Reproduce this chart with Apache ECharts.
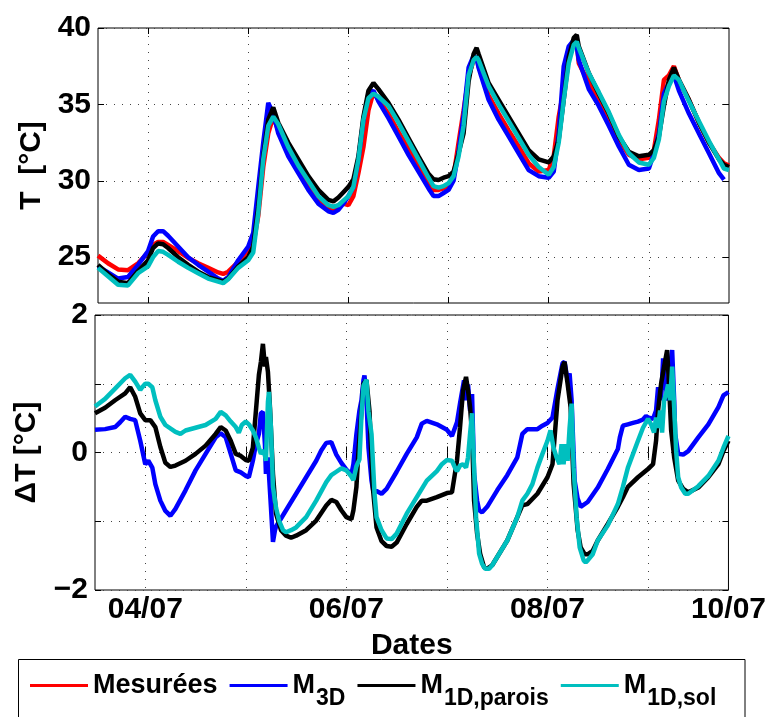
<!DOCTYPE html>
<html><head><meta charset="utf-8">
<script src="https://cdn.jsdelivr.net/npm/echarts@6/dist/echarts.min.js"></script>
<style>html,body{margin:0;padding:0;background:#fff}#c{width:769px;height:717px}</style>
</head><body><div id="c"></div>
<script>
// ---- top panel: temperatures (day of July) ----
const tDays = [3.5,3.6,3.7,3.8,3.9, 4.0,4.05,4.1,4.15,4.2, 4.3,4.4,4.5,4.6,4.7, 4.75,4.8,4.9,5.0,5.05,
  5.1,5.15,5.2,5.25,5.3, 5.4,5.5,5.6,5.7,5.8, 5.85,5.9,5.95,6.0,6.05, 6.1,6.15,6.2,6.25,6.3,
  6.4,6.5,6.6,6.7,6.8, 6.85,6.9,6.95,7.0,7.05, 7.1,7.15,7.2,7.25,7.28, 7.3,7.4,7.5,7.6,7.7,
  7.8,7.9,8.0,8.05,8.1, 8.15,8.2,8.25,8.28,8.3, 8.4,8.5,8.6,8.7,8.8, 8.9,9.0,9.05,9.1,9.15,
  9.2,9.25,9.3,9.4,9.5, 9.6,9.7,9.75,9.8];
const tMes = [25.1,24.6,24.2,24.15,24.6, 25.3,25.8,26.0,26.0,25.8, 25.4,24.95,24.6,24.3,24.0, 23.9,24.05,24.7,25.4,25.8,
  27.7,30.9,33.1,34.2,33.3, 31.8,30.7,29.6,28.75,28.2, 28.1,28.4,28.5,28.4,29.0, 30.5,32.2,34.6,35.8,35.3,
  34.4,33.2,32.1,31.0,29.9, 29.4,29.4,29.5,29.7,30.3, 32.5,34.6,36.8,37.9,38.1, 37.5,35.6,34.4,33.3,32.25,
  31.15,30.6,30.7,31.6,34.2, 36.0,38.1,39.0,39.0,37.7, 36.4,35.3,34.0,32.7,31.7, 31.4,31.5,32.0,34.0,36.6,
  36.9,37.5,36.6,35.3,33.8, 32.5,31.5,31.15,31.0];
const t3D = [24.4,24.0,23.6,23.7,24.5, 25.4,26.35,26.7,26.7,26.4, 25.7,25.0,24.5,24.05,23.6, 23.45,23.7,24.8,25.7,26.6,
  29.6,32.5,35.1,34.4,33.1, 31.6,30.5,29.4,28.5,28.0, 27.9,28.1,28.5,29.0,29.6, 31.4,34.0,35.7,35.9,35.2,
  34.1,32.9,31.7,30.6,29.5, 29.0,29.0,29.2,29.4,30.0, 31.9,34.3,37.4,38.2,38.0, 37.4,35.3,34.0,32.9,31.8,
  30.7,30.3,30.2,30.6,33.1, 37.5,38.8,39.2,38.8,37.9, 36.0,34.9,33.6,32.25,31.05, 30.7,30.8,31.8,33.1,35.7,
  36.4,36.9,35.9,34.4,33.1, 31.8,30.5,30.07,null];
const tParois = [24.5,23.9,23.4,23.3,24.1, 24.8,25.6,25.9,25.85,25.6, 25.0,24.5,24.05,23.7,23.5, 23.4,23.6,24.4,25.0,25.7,
  28.3,31.6,34.0,34.8,33.8, 32.5,31.4,30.3,29.4,28.75, 28.65,28.9,29.25,29.6,30.1, 31.6,34.2,35.9,36.4,36.0,
  35.1,34.0,32.8,31.6,30.45, 30.1,30.05,30.2,30.3,30.6, 31.8,33.1,36.5,38.3,38.7, 38.3,36.4,35.3,34.2,33.1,
  32.0,31.4,31.2,31.6,32.7, 35.3,38.1,39.35,39.55,38.8, 37.05,35.7,34.4,32.9,31.9, 31.6,31.7,32.0,32.9,34.9,
  36.6,37.4,36.6,35.3,33.8, 32.5,31.4,31.05,30.9];
const tSol = [24.3,23.75,23.2,23.15,23.95, 24.4,25.0,25.4,25.35,25.15, 24.7,24.3,23.95,23.6,23.4, 23.3,23.55,24.3,24.8,25.3,
  27.9,31.4,33.6,34.2,33.7, 32.2,31.0,30.0,29.0,28.4, 28.3,28.4,28.7,29.0,29.6, 31.4,34.0,35.4,35.7,35.5,
  34.9,33.8,32.6,31.4,30.2, 29.65,29.55,29.65,29.85,30.3, 31.6,33.6,36.9,37.9,38.1, 37.9,36.2,35.0,33.9,32.8,
  31.7,30.9,30.4,30.9,32.5, 35.3,37.7,38.9,39.1,38.7, 37.05,35.8,34.5,33.0,31.8, 31.2,31.05,31.5,32.7,35.2,
  36.2,36.9,36.6,35.2,33.9, 32.6,31.4,30.8,30.7];

// ---- bottom panel: deviations [day, dT] ----
const d3D = [[3.5,0.33],[3.6,0.34],[3.7,0.37],[3.75,0.44],[3.8,0.52],[3.85,0.49],[3.9,0.47],[3.95,0.17],[4.0,-0.17],[4.03,-0.12],
  [4.07,-0.22],[4.1,-0.46],[4.15,-0.7],[4.2,-0.85],[4.25,-0.92],[4.3,-0.82],[4.4,-0.55],[4.5,-0.26],[4.6,-0.02],[4.7,0.22],
  [4.75,0.28],[4.8,0.22],[4.85,-0.02],[4.9,-0.26],[4.95,-0.29],[5.0,-0.34],[5.03,-0.36],[5.07,-0.12],[5.1,0.12],[5.13,0.27],
  [5.15,0.57],[5.17,0.59],[5.19,0.12],[5.2,-0.31],[5.22,-0.07],[5.25,-0.8],[5.27,-1.3],[5.29,-1.13],[5.3,-1.08],[5.35,-0.96],
  [5.4,-0.84],[5.5,-0.6],[5.6,-0.36],[5.7,-0.12],[5.75,0.03],[5.8,0.14],[5.85,0.15],[5.9,-0.03],[5.95,-0.15],[6.0,-0.25],
  [6.05,-0.32],[6.07,-0.17],[6.1,0.27],[6.13,0.61],[6.15,0.76],[6.17,1.05],[6.18,1.12],[6.2,0.76],[6.22,0.07],[6.25,-0.41],
  [6.27,-0.58],[6.3,-0.56],[6.35,-0.6],[6.4,-0.53],[6.5,-0.28],[6.6,-0.02],[6.7,0.22],[6.75,0.42],[6.8,0.46],[6.9,0.41],
  [7.0,0.33],[7.05,0.24],[7.1,0.44],[7.13,0.71],[7.17,1.05],[7.19,0.76],[7.21,0.99],[7.23,0.61],[7.25,0.85],[7.27,-0.31],
  [7.3,-0.7],[7.32,-0.84],[7.35,-0.87],[7.4,-0.79],[7.5,-0.55],[7.6,-0.33],[7.7,-0.07],[7.75,0.27],[7.8,0.34],[7.9,0.34],
  [7.95,0.39],[8.0,0.43],[8.05,0.51],[8.1,0.93],[8.15,1.3],[8.17,1.32],[8.2,1.05],[8.22,1.15],[8.24,0.76],[8.27,-0.41],
  [8.3,-0.67],[8.33,-0.79],[8.4,-0.72],[8.5,-0.51],[8.6,-0.24],[8.7,0.05],[8.72,0.22],[8.75,0.39],[8.8,0.41],[8.85,0.43],
  [8.9,0.45],[8.95,0.48],[8.98,0.53],[9.0,0.51],[9.05,0.49],[9.08,0.61],[9.1,0.95],[9.13,0.76],[9.15,1.37],[9.17,1.0],
  [9.2,0.76],[9.22,1.25],[9.24,1.49],[9.26,0.76],[9.27,0.27],[9.3,-0.02],[9.35,-0.03],[9.4,0.02],[9.5,0.22],[9.6,0.41],
  [9.7,0.66],[9.75,0.83],[9.8,0.88]];
const dParois = [[3.5,0.57],[3.6,0.65],[3.7,0.76],[3.8,0.86],[3.85,0.95],[3.9,0.81],[3.95,0.57],[4.0,0.47],[4.05,0.47],[4.1,0.37],
  [4.15,0.08],[4.2,-0.15],[4.25,-0.21],[4.3,-0.19],[4.4,-0.12],[4.5,-0.02],[4.6,0.1],[4.7,0.27],[4.75,0.37],[4.8,0.32],
  [4.85,0.17],[4.9,-0.02],[4.95,-0.05],[5.0,-0.11],[5.03,-0.12],[5.07,0.07],[5.1,0.6],[5.13,1.13],[5.15,1.32],[5.17,1.58],
  [5.19,1.25],[5.2,1.39],[5.22,1.17],[5.24,0.66],[5.27,-0.31],[5.3,-0.89],[5.35,-1.13],[5.4,-1.21],[5.45,-1.24],[5.5,-1.21],
  [5.6,-1.13],[5.7,-0.99],[5.8,-0.77],[5.85,-0.69],[5.9,-0.72],[5.95,-0.84],[6.0,-0.94],[6.05,-0.97],[6.07,-0.84],[6.1,-0.5],
  [6.12,0.02],[6.15,0.6],[6.17,1.0],[6.2,1.05],[6.23,0.6],[6.26,-0.46],[6.3,-1.09],[6.35,-1.29],[6.4,-1.36],[6.45,-1.37],
  [6.5,-1.31],[6.6,-1.04],[6.7,-0.79],[6.75,-0.7],[6.8,-0.7],[6.9,-0.65],[7.0,-0.59],[7.05,-0.58],[7.1,-0.12],[7.13,0.36],
  [7.16,0.9],[7.19,1.1],[7.21,0.9],[7.23,0.66],[7.25,0.27],[7.27,-0.7],[7.3,-1.18],[7.33,-1.47],[7.37,-1.67],[7.4,-1.69],
  [7.45,-1.64],[7.5,-1.52],[7.6,-1.28],[7.7,-0.94],[7.75,-0.77],[7.8,-0.75],[7.9,-0.6],[8.0,-0.36],[8.05,-0.17],[8.1,0.76],
  [8.15,1.25],[8.17,1.32],[8.2,1.0],[8.23,0.66],[8.26,-0.46],[8.3,-1.13],[8.33,-1.38],[8.37,-1.48],[8.4,-1.48],[8.45,-1.43],
  [8.5,-1.28],[8.6,-1.04],[8.7,-0.79],[8.75,-0.65],[8.8,-0.5],[8.9,-0.36],[9.0,-0.24],[9.05,-0.17],[9.08,0.17],[9.1,0.61],
  [9.13,1.0],[9.16,1.25],[9.19,1.49],[9.21,0.95],[9.23,0.32],[9.26,-0.07],[9.3,-0.41],[9.35,-0.53],[9.4,-0.58],[9.5,-0.51],
  [9.6,-0.36],[9.7,-0.17],[9.75,0.02],[9.8,0.17]];
const dSol = [[3.5,0.67],[3.6,0.78],[3.7,0.93],[3.8,1.08],[3.85,1.13],[3.9,1.03],[3.95,0.91],[3.97,0.95],[4.0,1.0],[4.03,1.0],
  [4.07,0.95],[4.1,0.76],[4.15,0.52],[4.2,0.4],[4.3,0.3],[4.35,0.27],[4.4,0.32],[4.5,0.36],[4.6,0.4],[4.7,0.49],
  [4.75,0.59],[4.8,0.54],[4.85,0.45],[4.9,0.37],[4.93,0.29],[4.96,0.4],[5.0,0.45],[5.03,0.41],[5.07,0.32],[5.1,0.22],
  [5.13,0.07],[5.15,-0.02],[5.18,0.03],[5.2,-0.12],[5.22,0.74],[5.23,0.88],[5.25,0.36],[5.27,-0.5],[5.3,-0.8],[5.33,-0.99],
  [5.37,-1.13],[5.4,-1.16],[5.45,-1.13],[5.5,-1.09],[5.6,-0.94],[5.7,-0.7],[5.8,-0.43],[5.85,-0.33],[5.9,-0.28],[5.95,-0.23],
  [6.0,-0.26],[6.05,-0.35],[6.07,-0.4],[6.1,-0.2],[6.13,-0.1],[6.15,0.53],[6.17,0.97],[6.2,1.06],[6.22,0.6],[6.25,0.27],
  [6.28,-0.6],[6.3,-0.94],[6.35,-1.13],[6.4,-1.25],[6.45,-1.26],[6.5,-1.18],[6.6,-0.89],[6.7,-0.65],[6.75,-0.53],[6.8,-0.41],
  [6.9,-0.27],[6.95,-0.17],[7.0,-0.11],[7.05,-0.12],[7.08,-0.22],[7.1,-0.27],[7.13,-0.19],[7.16,-0.17],[7.19,-0.22],[7.21,-0.07],
  [7.23,0.27],[7.25,0.57],[7.27,-0.22],[7.29,-0.94],[7.32,-1.47],[7.35,-1.62],[7.38,-1.69],[7.42,-1.69],[7.45,-1.64],[7.5,-1.52],
  [7.6,-1.28],[7.7,-0.94],[7.75,-0.7],[7.8,-0.6],[7.85,-0.46],[7.9,-0.22],[7.95,-0.02],[8.0,0.17],[8.03,0.32],[8.06,0.07],
  [8.09,-0.07],[8.12,-0.17],[8.14,0.12],[8.16,-0.17],[8.18,0.12],[8.2,-0.12],[8.22,0.36],[8.24,0.71],[8.26,-0.22],[8.29,-0.94],
  [8.32,-1.38],[8.36,-1.57],[8.38,-1.6],[8.4,-1.57],[8.45,-1.48],[8.5,-1.28],[8.6,-1.06],[8.7,-0.75],[8.75,-0.5],[8.8,-0.22],
  [8.9,0.17],[8.95,0.36],[9.0,0.49],[9.03,0.41],[9.06,0.29],[9.08,0.51],[9.1,0.36],[9.12,0.61],[9.14,0.29],[9.16,0.76],
  [9.18,0.85],[9.2,0.99],[9.22,0.76],[9.24,1.25],[9.26,0.66],[9.28,0.02],[9.3,-0.36],[9.33,-0.51],[9.37,-0.6],[9.4,-0.6],
  [9.5,-0.49],[9.6,-0.34],[9.7,-0.12],[9.75,0.07],[9.8,0.24]];

// ---- axes ticks / labels ----
const xGridDays = [4,5,6,7,8,9];
const xLabelDays = [4,6,8,9.8];
const xLabelText = ['04/07','06/07','08/07','10/07'];
const tTicks = [25,30,35,40];
const seriesNames = ['Mesurées','M3D','M1D,parois','M1D,sol'];
const seriesColors = ['#ff0000','#0000ff','#000000','#00bfbf'];

const FF = "'Liberation Sans', Arial, Helvetica, sans-serif";
const chart = echarts.init(document.getElementById('c'), null, {renderer:'canvas'});

const dotted = {show:true, lineStyle:{color:'#444', width:1, type:[1,7]}};
const tickIn = (vals) => ({show:true, inside:true, length:6, customValues:vals, lineStyle:{color:'#000', width:1}});
const lbl = {fontFamily:FF, fontWeight:'bold', fontSize:30, color:'#000'};

function xAx(grid, pos, main) {
  return {
    gridIndex:grid, type:'value', min:3.5, max:9.8, position:pos,
    axisLine:{show:false},
    axisTick:tickIn(xGridDays),
    splitLine: main ? dotted : {show:false},
    axisLabel: (main && grid===1) ? Object.assign({show:true, margin:5, customValues:xLabelDays,
      formatter:(v)=>{const i=xLabelDays.findIndex(d=>Math.abs(d-v)<1e-6);return i>=0?xLabelText[i]:'';}}, lbl) : {show:false},
    name: (main && grid===1) ? 'Dates' : '',
    nameLocation:'middle', nameGap:41,
    nameTextStyle:{fontFamily:FF, fontWeight:'bold', fontSize:30, color:'#000'}
  };
}
function yAxTop(pos, main) {
  return {
    gridIndex:0, type:'value', min:22, max:40, position:pos,
    axisLine:{show:false},
    axisTick:tickIn(tTicks),
    splitLine: main ? dotted : {show:false},
    axisLabel: main ? Object.assign({show:true, margin:7, customValues:tTicks}, lbl) : {show:false},
    name: main ? 'T  [°C]' : '', nameLocation:'middle', nameGap:51,
    nameTextStyle:{fontFamily:FF, fontWeight:'bold', fontSize:30, color:'#000'}
  };
}
function yAxBot(pos, main) {
  return {
    gridIndex:1, type:'value', min:-2, max:2, interval:1, position:pos,
    axisLine:{show:false},
    axisTick:{show:true, inside:true, length:6, lineStyle:{color:'#000', width:1}},
    splitLine: main ? dotted : {show:false},
    axisLabel: main ? Object.assign({show:true, margin:7,
      formatter:(v)=> (Math.round(v)%2===0 ? (v<0 ? '\u2212'+Math.abs(v) : String(v)) : '')}, lbl) : {show:false},
    name: main ? '\u0394T [°C]' : '', nameLocation:'middle', nameGap:53,
    nameTextStyle:{fontFamily:FF, fontWeight:'bold', fontSize:30, color:'#000'}
  };
}

const topData = [tMes, t3D, tParois, tSol];
const series = [];
topData.forEach((arr, k) => {
  series.push({
    name:seriesNames[k], type:'line', xAxisIndex:0, yAxisIndex:0,
    data: tDays.map((d,i)=>[d, arr[i]]),
    showSymbol:false, symbol:'none', color:seriesColors[k],
    lineStyle:{width:4.5, color:seriesColors[k]}, connectNulls:false, animation:false
  });
});
[d3D, dParois, dSol].forEach((arr, k) => {
  series.push({
    name:seriesNames[k+1], type:'line', xAxisIndex:2, yAxisIndex:2,
    data: arr, showSymbol:false, symbol:'none', color:seriesColors[k+1],
    lineStyle:{width:4.5, color:seriesColors[k+1]}, animation:false
  });
});

function legendFmt(name) {
  if (name === 'Mesurées') return '{m|Mesurées}';
  return '{m|M}{s|' + name.slice(1) + '}';
}

chart.setOption({
  backgroundColor:'#ffffff',
  animation:false,
  grid:[
    {left:98, top:28, width:631, height:275, show:true, borderColor:'#000', borderWidth:1, containLabel:false},
    {left:95, top:315, width:634, height:275, show:true, borderColor:'#000', borderWidth:1, containLabel:false}
  ],
  xAxis:[ xAx(0,'bottom',true), xAx(0,'top',false), xAx(1,'bottom',true), xAx(1,'top',false) ],
  yAxis:[ yAxTop('left',true), yAxTop('right',false), yAxBot('left',true), yAxBot('right',false) ],
  legend:{
    data:seriesNames, left:30, top:661, padding:0, itemWidth:58, itemHeight:3, itemGap:12,
    icon:'rect', selectedMode:false, formatter:legendFmt,
    textStyle:{fontFamily:FF, fontWeight:'bold', fontSize:27, color:'#000',
      rich:{
        m:{fontFamily:FF, fontWeight:'bold', fontSize:27, lineHeight:30, color:'#000'},
        s:{fontFamily:FF, fontWeight:'bold', fontSize:23, lineHeight:24, padding:[26,0,0,1], color:'#000'}
      }}
  },
  graphic:[{type:'rect', shape:{x:18.5, y:659.5, width:726.5, height:80}, style:{fill:'none', stroke:'#000', lineWidth:1}, silent:true}],
  series: series
});
</script></body></html>
